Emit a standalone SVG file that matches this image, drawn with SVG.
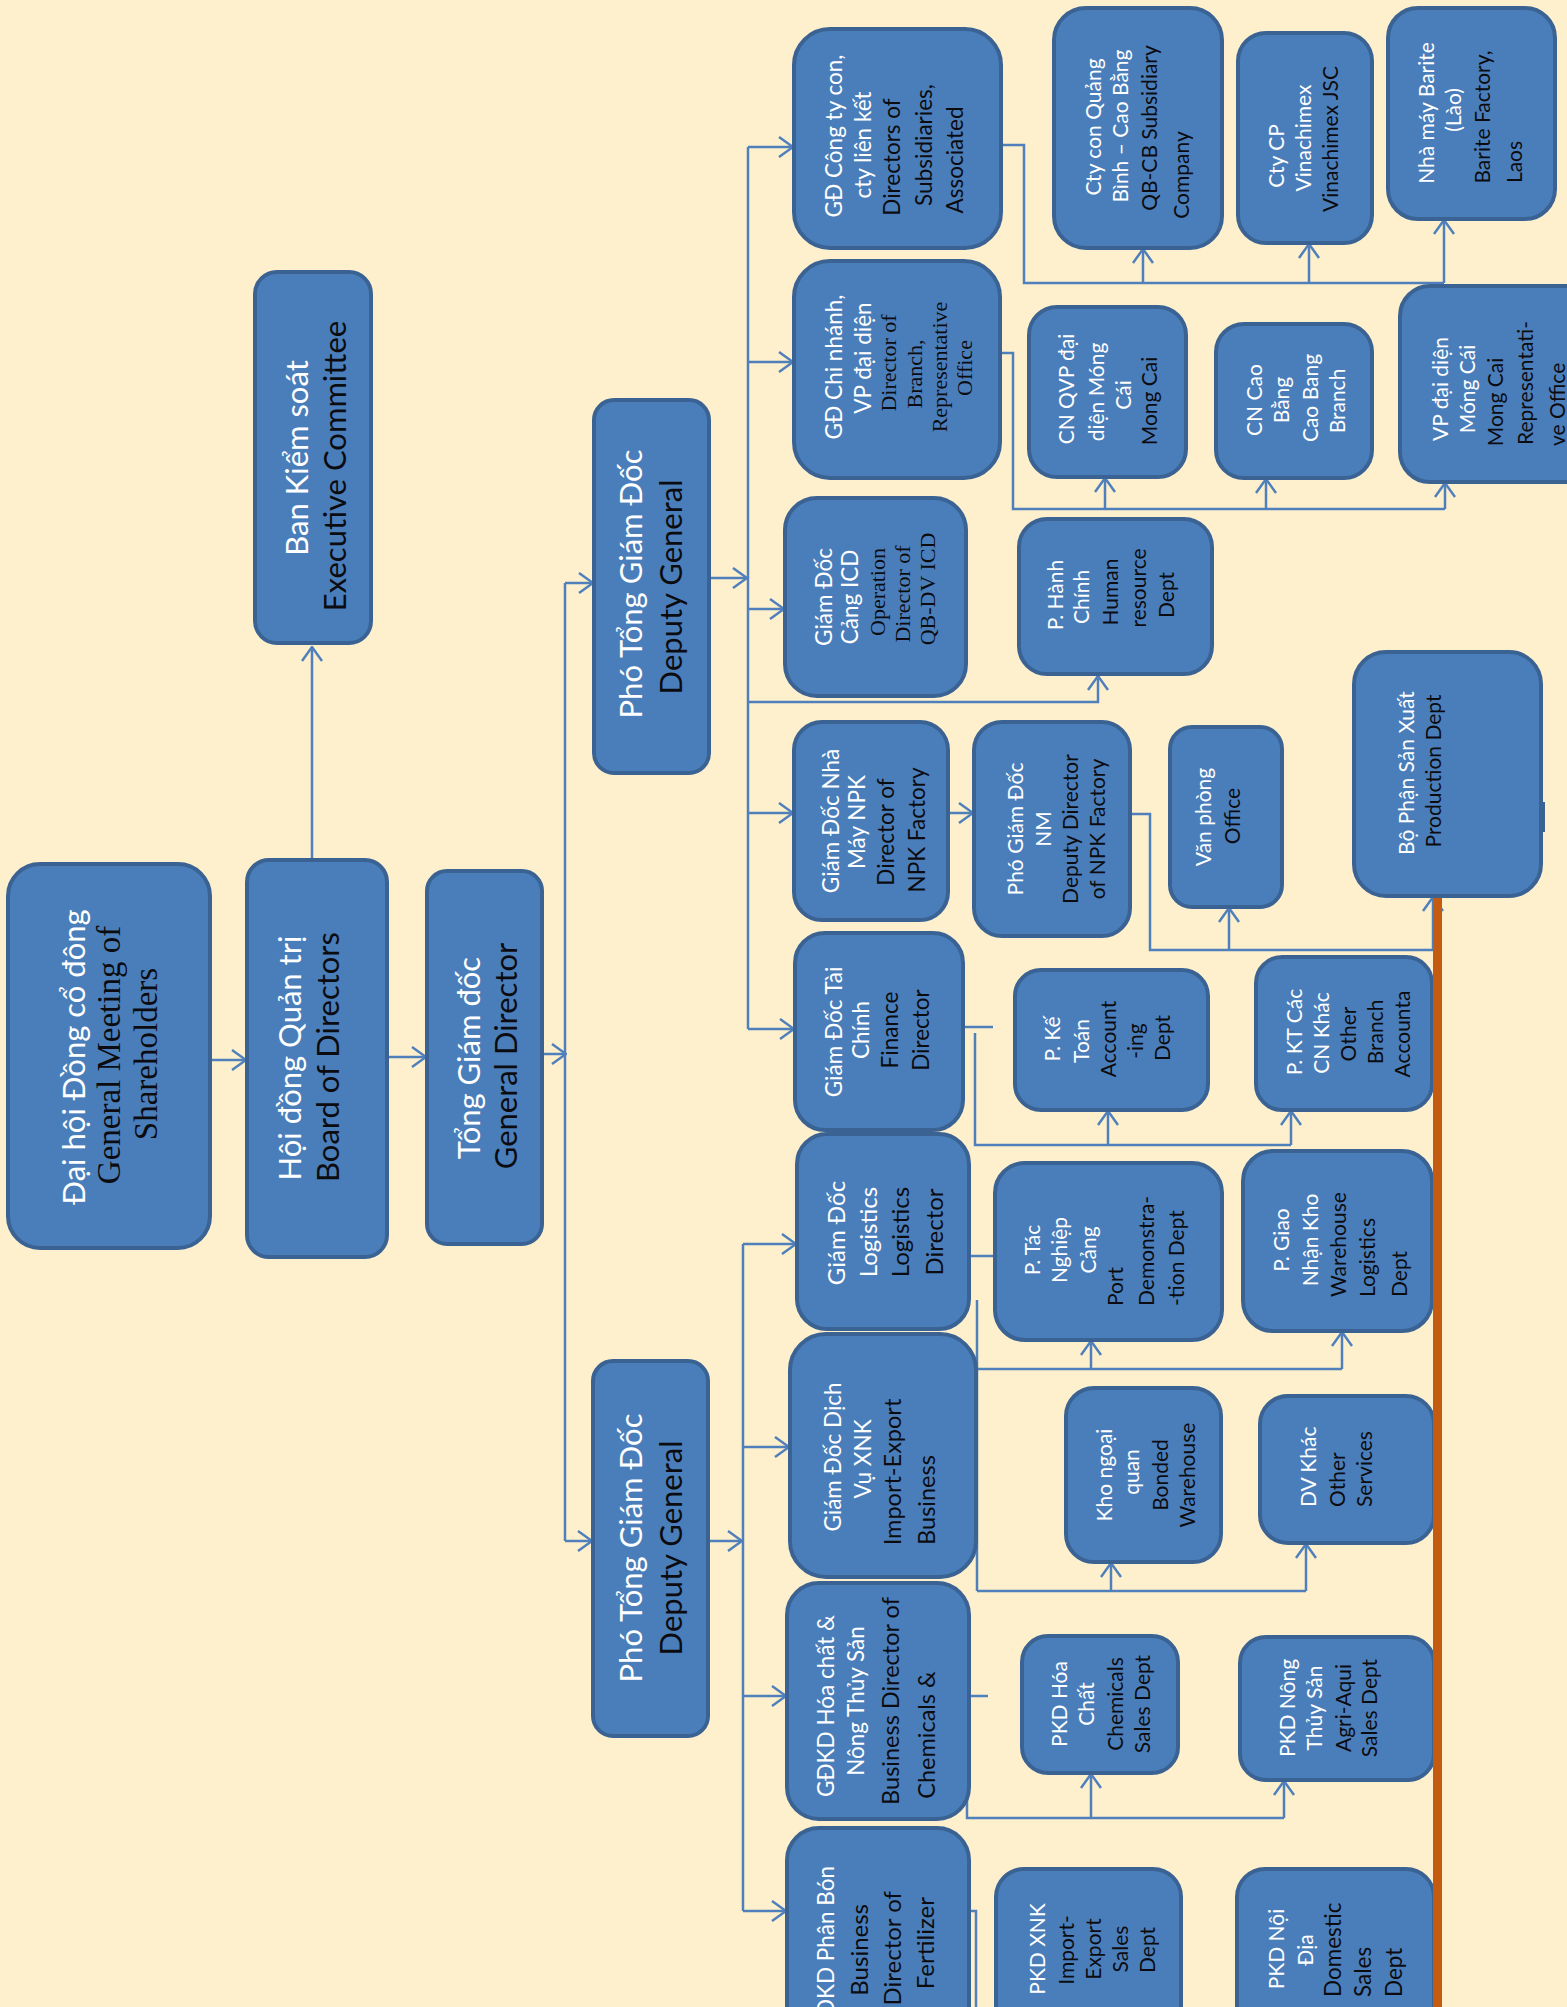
<svg xmlns="http://www.w3.org/2000/svg" width="1567" height="2007" viewBox="0 0 1567 2007">
<style>
text{font-family:Lato,"Noto Sans","DejaVu Sans",sans-serif;text-anchor:middle;dominant-baseline:central}
.w{fill:#ffffff}
.k{fill:#0c0c10}
.sf{font-family:"Liberation Serif","DejaVu Serif",serif}
.f1{font-size:31px}
.f1s{font-size:33px}
.f2{font-size:22.5px}
.f2s{font-size:22px}
.f3{font-size:21px}
.st{text-anchor:start}
.en{text-anchor:end}
.box{fill:#4A7EBB;stroke:#3A6394;stroke-width:4}
.ln{fill:none;stroke:#5080BC;stroke-width:2.5}
.ar{marker-end:url(#arr)}
</style>
<defs>
<marker id="arr" viewBox="0 0 16 22" refX="15" refY="11" markerWidth="16" markerHeight="22" markerUnits="userSpaceOnUse" orient="auto">
<path d="M1,1 L15,11 L1,21" fill="none" stroke="#5080BC" stroke-width="2.5"/>
</marker>
</defs>
<rect width="1567" height="2007" fill="#FEF0CD"/>

<g id="connectors">
<path class="ln ar" d="M312,858 V647"/>
<path class="ln ar" d="M210,1060 H246"/>
<path class="ln ar" d="M387,1057 H426"/>
<path class="ln ar" d="M542,1054 H566"/>
<path class="ln" d="M565,583 V1541"/>
<path class="ln ar" d="M565,583 H593"/>
<path class="ln ar" d="M565,1541 H592"/>
<path class="ln ar" d="M709,578 H747"/>
<path class="ln" d="M748,147 V1029"/>
<path class="ln ar" d="M748,147 H793"/>
<path class="ln ar" d="M748,362 H793"/>
<path class="ln ar" d="M748,609 H784"/>
<path class="ln ar" d="M748,813 H793"/>
<path class="ln ar" d="M748,1029 H794"/>
<path class="ln ar" d="M748,702 H1098 V676"/>
<path class="ln ar" d="M708,1541 H742"/>
<path class="ln" d="M743,1244 V1911"/>
<path class="ln ar" d="M743,1244 H796"/>
<path class="ln ar" d="M743,1447 H789"/>
<path class="ln ar" d="M743,1696 H786"/>
<path class="ln ar" d="M743,1911 H786"/>
<path class="ln" d="M1001,145 H1024 V283 H1444"/>
<path class="ln ar" d="M1143,283 V249"/>
<path class="ln ar" d="M1309,283 V244"/>
<path class="ln ar" d="M1444,283 V220"/>
<path class="ln" d="M1000,353 H1013 V509 H1445"/>
<path class="ln ar" d="M1105,509 V478"/>
<path class="ln ar" d="M1266,509 V479"/>
<path class="ln ar" d="M1445,509 V483"/>
<path class="ln ar" d="M948,813 H973"/>
<path class="ln" d="M1130,814 H1150 V950 H1434"/>
<path class="ln ar" d="M1229,950 V908"/>
<path class="ln ar" d="M1433,950 V897"/>
<path class="ln" d="M963,1027 H993"/>
<path class="ln" d="M975,1033 V1145 H1291"/>
<path class="ln ar" d="M1108,1145 V1111"/>
<path class="ln ar" d="M1291,1145 V1111"/>
<path class="ln" d="M969,1256 H995"/>
<path class="ln" d="M977,1300 V1591"/>
<path class="ln" d="M976,1369 H1342"/>
<path class="ln ar" d="M1091,1369 V1341"/>
<path class="ln ar" d="M1342,1369 V1332"/>
<path class="ln" d="M977,1591 H1306"/>
<path class="ln ar" d="M1111,1591 V1563"/>
<path class="ln ar" d="M1306,1591 V1544"/>
<path class="ln" d="M969,1696 H988"/>
<path class="ln" d="M967,1796 V1818 H1284"/>
<path class="ln ar" d="M1091,1818 V1774"/>
<path class="ln ar" d="M1284,1818 V1781"/>
<path class="ln" d="M969,1911 H976 V2010"/>
</g>

<g id="dhcd">
<rect class="box" x="8" y="864" width="202" height="384" rx="32"/>
<text class="w f1" transform="translate(73 1057) rotate(-90)">Đại hội Đồng cổ đông</text>
<text class="k sf f1s" transform="translate(109 1055) rotate(-90)">General Meeting of</text>
<text class="k sf f1s" transform="translate(146 1054) rotate(-90)">Shareholders</text>
</g>
<g id="bks">
<rect class="box" x="255" y="272" width="116" height="371" rx="22"/>
<text class="w f1" transform="translate(296 458) rotate(-90)">Ban Kiểm soát</text>
<text class="k f1" transform="translate(334 466) rotate(-90)">Executive Committee</text>
</g>
<g id="hdqt">
<rect class="box" x="247" y="860" width="140" height="397" rx="22"/>
<text class="w f1" transform="translate(289 1058) rotate(-90)">Hội đồng Quản trị</text>
<text class="k f1" transform="translate(327 1057) rotate(-90)">Board of Directors</text>
</g>
<g id="tgd">
<rect class="box" x="427" y="871" width="115" height="373" rx="20"/>
<text class="w f1" transform="translate(468 1058) rotate(-90)">Tổng Giám đốc</text>
<text class="k f1" transform="translate(505 1056) rotate(-90)">General Director</text>
</g>
<g id="ptgd1">
<rect class="box" x="594" y="400" width="115" height="373" rx="20"/>
<text class="w f1" transform="translate(630 584) rotate(-90)">Phó Tổng Giám Đốc</text>
<text class="k f1" transform="translate(670 587) rotate(-90)">Deputy General</text>
</g>
<g id="ptgd2">
<rect class="box" x="593" y="1361" width="115" height="375" rx="20"/>
<text class="w f1" transform="translate(630 1548) rotate(-90)">Phó Tổng Giám Đốc</text>
<text class="k f1" transform="translate(670 1548) rotate(-90)">Deputy General</text>
</g>

<g id="gd-ctycon">
<rect class="box" x="794" y="29" width="207" height="219" rx="36"/>
<text class="w f2" transform="translate(833 136) rotate(-90)">GĐ Công ty con,</text>
<text class="w f2" transform="translate(862 145) rotate(-90)">cty liên kết</text>
<text class="k f2" transform="translate(891 157) rotate(-90)">Directors of</text>
<text class="k f2" transform="translate(923 145) rotate(-90)">Subsidiaries,</text>
<text class="k f2" transform="translate(954 160) rotate(-90)">Associated</text>
</g>
<g id="gd-cn">
<rect class="box" x="794" y="261" width="206" height="217" rx="36"/>
<text class="w f2" transform="translate(833 367) rotate(-90)">GĐ Chi nhánh,</text>
<text class="w f2" transform="translate(862 358) rotate(-90)">VP đại diện</text>
<text class="k sf f2s" transform="translate(888 363) rotate(-90)">Director of</text>
<text class="k sf f2s" transform="translate(914 374) rotate(-90)">Branch,</text>
<text class="k sf f2s" transform="translate(939 367) rotate(-90)">Representative</text>
<text class="k sf f2s" transform="translate(964 368) rotate(-90)">Office</text>
</g>
<g id="gd-icd">
<rect class="box" x="785" y="498" width="181" height="198" rx="32"/>
<text class="w f2" transform="translate(823 597) rotate(-90)">Giám Đốc</text>
<text class="w f2" transform="translate(849 597) rotate(-90)">Cảng ICD</text>
<text class="k sf f2s" transform="translate(877 592) rotate(-90)">Operation</text>
<text class="k sf f2s" transform="translate(902 594) rotate(-90)">Director of</text>
<text class="k sf f2s" transform="translate(927 589) rotate(-90)">QB-DV ICD</text>
</g>
<g id="gd-npk">
<rect class="box" x="794" y="722" width="154" height="198" rx="28"/>
<text class="w f2" transform="translate(830 821) rotate(-90)">Giám Đốc Nhà</text>
<text class="w f2" transform="translate(856 822) rotate(-90)">Máy NPK</text>
<text class="k f2" transform="translate(885 832) rotate(-90)">Director of</text>
<text class="k f2" transform="translate(916 830) rotate(-90)">NPK Factory</text>
</g>
<g id="gd-tc">
<rect class="box" x="795" y="933" width="168" height="197" rx="30"/>
<text class="w f2" transform="translate(833 1032) rotate(-90)">Giám Đốc Tài</text>
<text class="w f2" transform="translate(860 1030) rotate(-90)">Chính</text>
<text class="k f2" transform="translate(889 1030) rotate(-90)">Finance</text>
<text class="k f2" transform="translate(920 1030) rotate(-90)">Director</text>
</g>
<g id="gd-log">
<rect class="box" x="797" y="1134" width="172" height="195" rx="30"/>
<text class="w f2" transform="translate(835 1233) rotate(-90)" style="font-size:24px">Giám Đốc</text>
<text class="w f2" transform="translate(867 1232) rotate(-90)" style="font-size:24px">Logistics</text>
<text class="k f2" transform="translate(899 1232) rotate(-90)" style="font-size:24px">Logistics</text>
<text class="k f2" transform="translate(933 1232) rotate(-90)" style="font-size:24px">Director</text>
</g>
<g id="gd-xnk">
<rect class="box" x="790" y="1334" width="186" height="243" rx="36"/>
<text class="w f2" transform="translate(832 1457) rotate(-90)">Giám Đốc Dịch</text>
<text class="w f2" transform="translate(862 1459) rotate(-90)">Vụ XNK</text>
<text class="k f2" transform="translate(892 1472) rotate(-90)" style="font-size:23.5px">Import-Export</text>
<text class="k f2" transform="translate(926 1500) rotate(-90)" style="font-size:23.5px">Business</text>
</g>
<g id="gdkd-hc">
<rect class="box" x="787" y="1583" width="182" height="236" rx="32"/>
<text class="w f2" transform="translate(825 1706) rotate(-90)">GĐKD Hóa chất &amp;</text>
<text class="w f2" transform="translate(855 1701) rotate(-90)">Nông Thủy Sản</text>
<text class="k f2" transform="translate(890 1701) rotate(-90)" style="font-size:23.5px">Business Director of</text>
<text class="k f2" transform="translate(926 1735) rotate(-90)" style="font-size:23.5px">Chemicals &amp;</text>
</g>
<g id="gdkd-pb">
<rect class="box" x="787" y="1828" width="182" height="230" rx="32"/>
<text class="w f2 en" transform="translate(825 1866) rotate(-90)">GĐKD Phân Bón</text>
<text class="k f2 en" transform="translate(858 1904) rotate(-90)" style="font-size:24px">Business</text>
<text class="k f2 en" transform="translate(891 1891) rotate(-90)" style="font-size:24px">Director of</text>
<text class="k f2 en" transform="translate(924 1897) rotate(-90)" style="font-size:24px">Fertilizer</text>
</g>

<g id="cty-qb">
<rect class="box" x="1054" y="8" width="168" height="240" rx="32"/>
<text class="w f3" transform="translate(1092 127) rotate(-90)">Cty con Quảng</text>
<text class="w f3" transform="translate(1119 126) rotate(-90)">Bình – Cao Bằng</text>
<text class="k f3" transform="translate(1148 128) rotate(-90)">QB-CB Subsidiary</text>
<text class="k f3" transform="translate(1180 175) rotate(-90)">Company</text>
</g>
<g id="cty-vina">
<rect class="box" x="1238" y="33" width="134" height="210" rx="28"/>
<text class="w f3" transform="translate(1275 156) rotate(-90)">Cty CP</text>
<text class="w f3" transform="translate(1302 138) rotate(-90)">Vinachimex</text>
<text class="k f3" transform="translate(1329 139) rotate(-90)">Vinachimex JSC</text>
</g>
<g id="barite">
<rect class="box" x="1388" y="8" width="167" height="211" rx="30"/>
<text class="w f3" transform="translate(1425 113) rotate(-90)">Nhà máy Barite</text>
<text class="w f3" transform="translate(1452 110) rotate(-90)">(Lào)</text>
<text class="k f3" transform="translate(1481 117) rotate(-90)">Barite Factory,</text>
<text class="k f3" transform="translate(1513 162) rotate(-90)">Laos</text>
</g>
<g id="cn-qvp">
<rect class="box" x="1029" y="307" width="157" height="170" rx="28"/>
<text class="w f3" transform="translate(1065 389) rotate(-90)">CN QVP đại</text>
<text class="w f3" transform="translate(1095 392) rotate(-90)">diện Móng</text>
<text class="w f3" transform="translate(1122 395) rotate(-90)">Cái</text>
<text class="k f3" transform="translate(1148 401) rotate(-90)">Mong Cai</text>
</g>
<g id="cn-cb">
<rect class="box" x="1216" y="324" width="156" height="154" rx="28"/>
<text class="w f3" transform="translate(1253 400) rotate(-90)">CN Cao</text>
<text class="w f3" transform="translate(1280 400) rotate(-90)">Bằng</text>
<text class="w f3" transform="translate(1309 398) rotate(-90)">Cao Bang</text>
<text class="w f3" transform="translate(1336 401) rotate(-90)">Branch</text>
</g>
<g id="vp-mc">
<rect class="box" x="1400" y="286" width="200" height="196" rx="30"/>
<text class="w f3" transform="translate(1439 389) rotate(-90)">VP đại diện</text>
<text class="w f3" transform="translate(1466 389) rotate(-90)">Móng Cái</text>
<text class="k f3" transform="translate(1494 402) rotate(-90)">Mong Cai</text>
<text class="k f3" transform="translate(1524 383) rotate(-90)">Representati-</text>
<text class="k f3 st" transform="translate(1556 446) rotate(-90)">ve Office</text>
</g>
<g id="p-hc">
<rect class="box" x="1019" y="519" width="193" height="155" rx="28"/>
<text class="w f3" transform="translate(1054 595) rotate(-90)">P. Hành</text>
<text class="w f3" transform="translate(1080 597) rotate(-90)">Chính</text>
<text class="k f3" transform="translate(1109 592) rotate(-90)">Human</text>
<text class="k f3" transform="translate(1137 588) rotate(-90)">resource</text>
<text class="k f3" transform="translate(1165 595) rotate(-90)">Dept</text>
</g>
<g id="pgd-nm">
<rect class="box" x="974" y="722" width="156" height="214" rx="28"/>
<text class="w f3" transform="translate(1014 829) rotate(-90)">Phó Giám Đốc</text>
<text class="w f3" transform="translate(1042 829) rotate(-90)">NM</text>
<text class="k f3" transform="translate(1069 829) rotate(-90)">Deputy Director</text>
<text class="k f3" transform="translate(1096 829) rotate(-90)">of NPK Factory</text>
</g>
<g id="van-phong">
<rect class="box" x="1170" y="727" width="112" height="180" rx="22"/>
<text class="w f3" transform="translate(1202 817) rotate(-90)">Văn phòng</text>
<text class="k f3" transform="translate(1231 816) rotate(-90)">Office</text>
</g>
<g id="bo-phan-sx">
<rect class="box" x="1354" y="652" width="187" height="244" rx="32"/>
<rect x="1540" y="802" width="5" height="30" fill="#3A6394"/>
<text class="w f3" transform="translate(1405 773) rotate(-90)">Bộ Phận Sản Xuất</text>
<text class="k f3" transform="translate(1432 771) rotate(-90)">Production Dept</text>
</g>
<g id="p-kt">
<rect class="box" x="1015" y="970" width="193" height="140" rx="26"/>
<text class="w f3" transform="translate(1051 1039) rotate(-90)">P. Kế</text>
<text class="w f3" transform="translate(1080 1041) rotate(-90)">Toán</text>
<text class="k f3" transform="translate(1107 1039) rotate(-90)">Account</text>
<text class="k f3" transform="translate(1134 1041) rotate(-90)">-ing</text>
<text class="k f3" transform="translate(1161 1038) rotate(-90)">Dept</text>
</g>
<g id="p-kt-cn">
<rect class="box" x="1256" y="957" width="176" height="153" rx="26"/>
<text class="w f3" transform="translate(1293 1032) rotate(-90)">P. KT Các</text>
<text class="w f3" transform="translate(1320 1033) rotate(-90)">CN Khác</text>
<text class="k f3" transform="translate(1347 1034) rotate(-90)">Other</text>
<text class="k f3" transform="translate(1374 1032) rotate(-90)">Branch</text>
<text class="k f3" transform="translate(1401 1034) rotate(-90)">Accounta</text>
</g>
<g id="p-tnc">
<rect class="box" x="995" y="1163" width="227" height="177" rx="30"/>
<text class="w f3" transform="translate(1031 1250) rotate(-90)">P. Tác</text>
<text class="w f3" transform="translate(1058 1250) rotate(-90)">Nghiệp</text>
<text class="w f3" transform="translate(1087 1250) rotate(-90)">Cảng</text>
<text class="k f3 st" transform="translate(1114 1306) rotate(-90)">Port</text>
<text class="k f3 st" transform="translate(1145 1306) rotate(-90)">Demonstra-</text>
<text class="k f3 st" transform="translate(1175 1306) rotate(-90)">-tion Dept</text>
</g>
<g id="p-gnk">
<rect class="box" x="1243" y="1151" width="189" height="180" rx="30"/>
<text class="w f3" transform="translate(1280 1240) rotate(-90)">P. Giao</text>
<text class="w f3" transform="translate(1309 1240) rotate(-90)">Nhận Kho</text>
<text class="k f3 st" transform="translate(1337 1297) rotate(-90)">Warehouse</text>
<text class="k f3 st" transform="translate(1366 1297) rotate(-90)">Logistics</text>
<text class="k f3 st" transform="translate(1398 1297) rotate(-90)">Dept</text>
</g>
<g id="kho-nq">
<rect class="box" x="1066" y="1388" width="155" height="174" rx="28"/>
<text class="w f3" transform="translate(1103 1475) rotate(-90)">Kho ngoại</text>
<text class="w f3" transform="translate(1130 1472) rotate(-90)">quan</text>
<text class="k f3" transform="translate(1159 1475) rotate(-90)">Bonded</text>
<text class="k f3" transform="translate(1186 1475) rotate(-90)">Warehouse</text>
</g>
<g id="dv-khac">
<rect class="box" x="1260" y="1396" width="174" height="147" rx="28"/>
<text class="w f3 st" transform="translate(1307 1507) rotate(-90)">DV Khác</text>
<text class="k f3 st" transform="translate(1336 1507) rotate(-90)">Other</text>
<text class="k f3 st" transform="translate(1363 1507) rotate(-90)">Services</text>
</g>
<g id="pkd-hc">
<rect class="box" x="1022" y="1636" width="156" height="137" rx="26"/>
<text class="w f3" transform="translate(1058 1704) rotate(-90)">PKD Hóa</text>
<text class="w f3" transform="translate(1085 1704) rotate(-90)">Chất</text>
<text class="k f3" transform="translate(1114 1704) rotate(-90)">Chemicals</text>
<text class="k f3" transform="translate(1141 1704) rotate(-90)">Sales Dept</text>
</g>
<g id="pkd-nts">
<rect class="box" x="1240" y="1637" width="194" height="143" rx="26"/>
<text class="w f3" transform="translate(1286 1708) rotate(-90)">PKD Nông</text>
<text class="w f3" transform="translate(1313 1708) rotate(-90)">Thủy Sản</text>
<text class="k f3" transform="translate(1342 1708) rotate(-90)">Agri-Aqui</text>
<text class="k f3" transform="translate(1368 1708) rotate(-90)">Sales Dept</text>
</g>
<g id="pkd-xnk">
<rect class="box" x="996" y="1869" width="185" height="180" rx="28"/>
<text class="w f3" transform="translate(1036 1949) rotate(-90)">PKD XNK</text>
<text class="k f3" transform="translate(1065 1950) rotate(-90)">Import-</text>
<text class="k f3" transform="translate(1092 1949) rotate(-90)">Export</text>
<text class="k f3" transform="translate(1119 1949) rotate(-90)">Sales</text>
<text class="k f3" transform="translate(1146 1950) rotate(-90)">Dept</text>
</g>
<g id="pkd-nd">
<rect class="box" x="1237" y="1869" width="197" height="180" rx="28"/>
<text class="w f3" transform="translate(1275 1949) rotate(-90)">PKD Nội</text>
<text class="w f3" transform="translate(1304 1950) rotate(-90)">Địa</text>
<text class="k f3 st" transform="translate(1332 1997) rotate(-90)" style="font-size:22.5px">Domestic</text>
<text class="k f3 st" transform="translate(1362 1997) rotate(-90)" style="font-size:22.5px">Sales</text>
<text class="k f3 st" transform="translate(1393 1997) rotate(-90)" style="font-size:22.5px">Dept</text>
</g>

<g id="orange-line">
<rect x="1433" y="898" width="9" height="1112" fill="#C55A11"/>
</g>
</svg>
